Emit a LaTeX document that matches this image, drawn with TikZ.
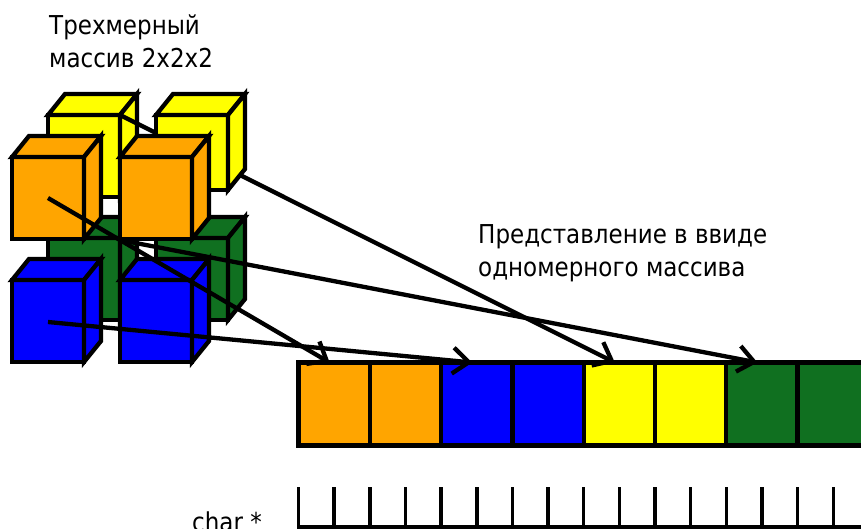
\documentclass[tikz,border=0pt]{standalone}
\usepackage{fontspec}
\setmainfont{DejaVu Sans}[FakeStretch=0.885]
\usetikzlibrary{arrows.meta}
\definecolor{cubeorange}{RGB}{255,165,0}
\definecolor{cubeyellow}{RGB}{255,255,0}
\definecolor{cubegreen}{RGB}{16,112,32}
\definecolor{cubeblue}{RGB}{0,0,255}
\tikzset{
  edgeline/.style={draw=black, line width=4.3pt},
  link/.style={line width=4.3pt, -{Straight Barb[length=16pt,width=26pt]}},
  cell/.style={draw, line width=4.3pt, minimum width=71.3pt, minimum height=83pt,
               inner sep=0pt, outer sep=0pt},
  lbl/.style={font=\fontsize{26}{33}\selectfont, inner sep=0pt, align=left},
  rulerline/.style={line width=3.5pt},
}
% a cube: front face top-left corner (#1,#2), front face height #3, colour #4
\newcommand\cubebox[4]{%
  \filldraw[edgeline, fill=#4] (#1,#2) rectangle ++(72,#3);
  \filldraw[edgeline, fill=#4] (#1,#2) -- ++(17,-21) -- ++(72,0) -- ++(-17,21) -- cycle;
  \filldraw[edgeline, fill=#4] (#1+72,#2) -- ++(17,-21) -- ++(0,#3) -- ++(-17,21) -- cycle;
}
\begin{document}
\begin{tikzpicture}[x=1pt, y=-1pt]
  \useasboundingbox (0,0) rectangle (861,528);
  \clip (0,0) rectangle (861,528);

  % labels (anchored at the baseline of the last line)
  \node[lbl, anchor=base west] (title) at (49,67) {Трехмерный\\массив 2x2x2};
  \node[lbl, anchor=base west] (flat) at (478,276) {Представление в ввиде\\одномерного массива};
  \node[lbl, anchor=base west] (ptr) at (192,531) {char *};

  % linear memory strip
  \foreach \i/\c in {1/cubeorange,2/cubeorange,3/cubeblue,4/cubeblue,
                     5/cubeyellow,6/cubeyellow,7/cubegreen,8/cubegreen}
    \node[cell, fill=\c] (c\i) at ({298.5+71.3*(\i-1)+35.65},404) {};

  % byte ruler
  \coordinate (r0) at (298.5,527);
  \coordinate (r1) at (870,527);
  \draw[rulerline] (r0) -- (r1);
  \foreach \k in {0,...,15}
    \draw[rulerline] ({298.5+35.65*\k},487) -- ({298.5+35.65*\k},528.5);

  % start points of the links
  \coordinate (sOrange) at (48,198);
  \coordinate (sBlue)   at (48,322);
  \coordinate (sYellow) at (120,115);
  \coordinate (sGreen)  at (120,240);

  % back row
  \cubebox{48}{115}{82}{cubeyellow}
  \draw[link] (sYellow) -- ([xshift=-4.5pt]c5.north);
  \cubebox{156}{115}{75}{cubeyellow}
  \cubebox{48}{238}{82}{cubegreen}
  \cubebox{156}{238}{82}{cubegreen}
  \draw[link] (sGreen) -- ([xshift=-4.5pt]c7.north);

  % front row
  \cubebox{12}{157}{82}{cubeorange}
  \cubebox{120}{157}{82}{cubeorange}
  \cubebox{12}{280}{82}{cubeblue}
  \cubebox{120}{280}{82}{cubeblue}

  \draw[link] (sOrange) -- ([xshift=-4.5pt]c1.north);
  \draw[link] (sBlue) -- ([xshift=-4.5pt]c3.north);
\end{tikzpicture}
\end{document}
